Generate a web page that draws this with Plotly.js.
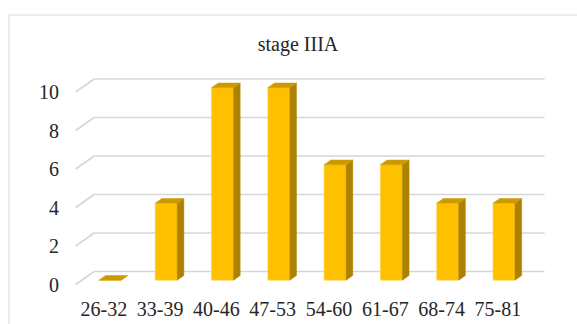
<!DOCTYPE html>
<html>
<head>
<meta charset="utf-8">
<script src="https://cdn.plot.ly/plotly-3.0.1.min.js"></script>
<style>
  html, body { margin: 0; padding: 0; background: #ffffff; }
  #chart { width: 577px; height: 324px; }
</style>
</head>
<body>
<div id="chart"></div>
<script>
// ---- data ----
const categories = ['26-32', '33-39', '40-46', '47-53', '54-60', '61-67', '68-74', '75-81'];
const counts = [0, 4, 10, 10, 6, 6, 4, 4];
const yTickValues = [0, 2, 4, 6, 8, 10];
const chartTitle = 'stage IIIA';

// ---- layout geometry (pixels) ----
const W = 577, H = 324;
const L = 66, R = 22, T = 60, B = 34;
const plotW = W - L - R, plotH = H - T - B;
const pxPerCat = 56.3, pxPerUnit = 19.25;
const cat0Px = 103.8, zeroPx = 284.5;             // front-edge positions
const depthPx = [18.5, 13];                        // oblique depth vector
const Dx = depthPx[0] / pxPerCat, Dy = depthPx[1] / pxPerUnit;
const fFront = 0.33, fBack = 0.69;                 // bar depth span (fraction)
const bw = 22 / pxPerCat;                          // bar width in category units

const xRange = [(L - cat0Px) / pxPerCat, (L + plotW - cat0Px) / pxPerCat];
const yRange = [(zeroPx - (T + plotH)) / pxPerUnit, (zeroPx - T) / pxPerUnit];

const idx = categories.map((c, i) => i);
const xLeft = -0.5, xRight = categories.length - 0.5;

// gridlines: left wall diagonal + back wall horizontal
const shapes = [];
const gridColor = '#d6d6d6';
yTickValues.forEach(v => {
  shapes.push({type: 'line', xref: 'x', yref: 'y', layer: 'below',
    x0: xLeft, y0: v, x1: xLeft + Dx, y1: v + Dy,
    line: {color: gridColor, width: 1.6}});
  shapes.push({type: 'line', xref: 'x', yref: 'y', layer: 'below',
    x0: xLeft + Dx, y0: v + Dy, x1: xRight + Dx, y1: v + Dy,
    line: {color: gridColor, width: 1.6}});
});
// outer chart-area border
shapes.push({type: 'rect', xref: 'paper', yref: 'paper', layer: 'below',
  x0: (9 - L) / plotW, x1: (W + 20 - L) / plotW,
  y0: 1 - (H + 20 - T) / plotH, y1: 1 - (15 - T) / plotH,
  line: {color: '#d9d9d9', width: 1}});

// front faces (bar trace)
const frontTrace = {
  type: 'bar',
  x: idx.map(i => i + fFront * Dx),
  y: counts,
  base: counts.map(() => fFront * Dy),
  width: bw,
  marker: {color: '#FFC000', line: {color: '#FFD24D', width: 0.6}},
  hoverinfo: 'skip',
  showlegend: false
};

// side faces & top faces (polygons)
const sideX = [], sideY = [], topX = [], topY = [];
idx.forEach(i => {
  const v = counts[i];
  const cx = i + fFront * Dx;
  const xr = cx + bw / 2, xl = cx - bw / 2;
  const ddx = (fBack - fFront) * Dx, ddy = (fBack - fFront) * Dy;
  const y0 = fFront * Dy;
  sideX.push(xr, xr, xr + ddx, xr + ddx, xr, null);
  sideY.push(y0, y0 + v, y0 + v + ddy, y0 + ddy, y0, null);
  topX.push(xl, xr, xr + ddx, xl + ddx, xl, null);
  topY.push(y0 + v, y0 + v, y0 + v + ddy, y0 + v + ddy, y0 + v, null);
});
const sideTrace = {
  type: 'scatter', mode: 'lines', x: sideX, y: sideY,
  fill: 'toself', fillcolor: '#AD8200', line: {color: '#AD8200', width: 0.5},
  hoverinfo: 'skip', showlegend: false
};
const topTrace = {
  type: 'scatter', mode: 'lines', x: topX, y: topY,
  fill: 'toself', fillcolor: '#CC9A00', line: {color: '#CC9A00', width: 0.5},
  hoverinfo: 'skip', showlegend: false
};

const font = {family: '"Liberation Serif", "Times New Roman", serif', size: 20, color: '#262626'};

const layout = {
  width: W, height: H,
  margin: {l: L, r: R, t: T, b: B, pad: 0},
  paper_bgcolor: '#ffffff', plot_bgcolor: 'rgba(0,0,0,0)',
  font: font,
  title: {text: chartTitle, font: font, xref: 'container', yref: 'container',
          x: 298 / W, xanchor: 'center', y: 1 - 44 / H, yanchor: 'middle'},
  xaxis: {range: xRange, tickmode: 'array', tickvals: idx, ticktext: categories,
          showgrid: false, zeroline: false, showline: false, ticks: '',
          ticklabelstandoff: 5, fixedrange: true},
  yaxis: {range: yRange, tickmode: 'array', tickvals: yTickValues,
          ticktext: yTickValues.map(String),
          showgrid: false, zeroline: false, showline: false, ticks: '',
          ticklabelstandoff: 6, fixedrange: true},
  shapes: shapes,
  bargap: 0,
  showlegend: false
};

Plotly.newPlot('chart', [frontTrace, sideTrace, topTrace], layout, {staticPlot: true});
</script>
</body>
</html>
